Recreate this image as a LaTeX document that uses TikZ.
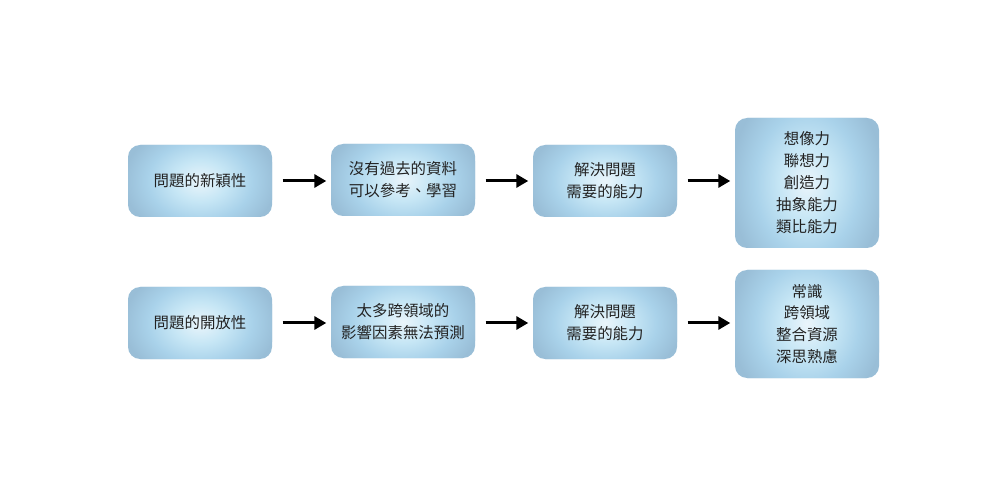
\documentclass[tikz,border=0pt]{standalone}
\usepackage{fontspec}
\newfontfamily\cjk{Noto Sans CJK TC}
\usetikzlibrary{arrows.meta,calc}
\definecolor{cA}{HTML}{EAF5FB}
\definecolor{cB}{HTML}{C6E6F5}
\definecolor{cC}{HTML}{A9D2EA}
\definecolor{cD}{HTML}{99BED7}
\definecolor{txt}{HTML}{222222}
\pgfdeclareradialshading{boxshade}{\pgfpoint{0bp}{0bp}}{color(0bp)=(cA); color(9bp)=(cB); color(17bp)=(cC); color(25bp)=(cD); color(50bp)=(cD)}
\tikzset{
  box/.style={fill=cD, draw=none, rounded corners=12bp, minimum width=144bp, minimum height=72bp,
    inner sep=0pt, align=center, text=txt, font=\cjk\fontsize{15.5}{22}\selectfont,
    path picture={\shade[shading=boxshade] let \p1=($(path picture bounding box.north east)-(path picture bounding box.south west)$) in (path picture bounding box.center) ellipse [x radius=0.53*\x1, y radius=0.8*\y1];}},
  arr/.style={line width=3bp, -{Triangle[length=12bp,width=13bp]}, shorten <=10.5bp, shorten >=4.5bp}
}
\begin{document}
\begin{tikzpicture}[x=1bp,y=-1bp]
\useasboundingbox (0,0) rectangle (1000,500);
\node[box] (a1) at (200,181) {問題的新穎性};
\node[box] (b1) at (403,180) {沒有過去的資料\\可以參考、學習};
\node[box] (c1) at (605,181) {解決問題\\需要的能力};
\node[box, minimum height=130bp] (d1) at (807,183) {想像力\\聯想力\\創造力\\抽象能力\\類比能力};
\node[box] (a2) at (200,323) {問題的開放性};
\node[box] (b2) at (403,322) {太多跨領域的\\影響因素無法預測};
\node[box] (c2) at (605,323) {解決問題\\需要的能力};
\node[box, minimum height=108bp] (d2) at (807,324) {常識\\跨領域\\整合資源\\深思熟慮};
\draw[arr] (a1.east) -- (a1.east -| b1.west);
\draw[arr] (b1.east |- a1.east) -- (a1.east -| c1.west);
\draw[arr] (c1.east) -- (c1.east -| d1.west);
\draw[arr] (a2.east) -- (a2.east -| b2.west);
\draw[arr] (b2.east |- a2.east) -- (a2.east -| c2.west);
\draw[arr] (c2.east) -- (c2.east -| d2.west);
\end{tikzpicture}
\end{document}
